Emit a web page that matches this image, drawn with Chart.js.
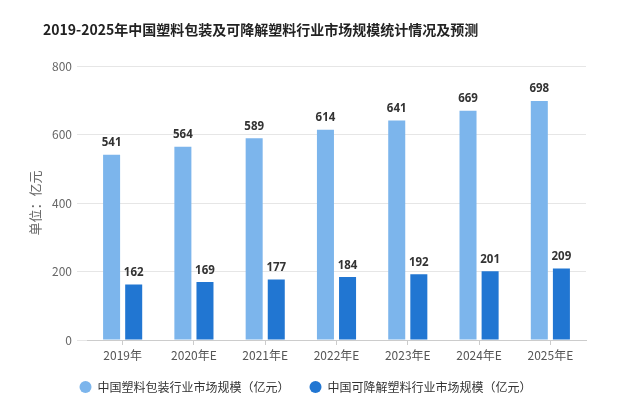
<!DOCTYPE html>
<html>
<head>
<meta charset="utf-8">
<script src="https://cdn.jsdelivr.net/npm/chart.js@4"></script>
<style>
  body { margin: 0; background: #fff; }
  #wrap { width: 622px; height: 400px; }
</style>
</head>
<body>
<div id="wrap"><canvas id="chart" width="622" height="400"></canvas></div>
<script>
// chart data
const titleText = '2019-2025年中国塑料包装及可降解塑料行业市场规模统计情况及预测';
const years = ['2019年', '2020年E', '2021年E', '2022年E', '2023年E', '2024年E', '2025年E'];
const plasticPackaging = [541, 564, 589, 614, 641, 669, 698];
const degradablePlastic = [162, 169, 177, 184, 192, 201, 209];
const seriesNames = ['中国塑料包装行业市场规模（亿元）', '中国可降解塑料行业市场规模（亿元）'];
const yTicks = [0, 200, 400, 600, 800];
const yTitle = '单位：亿元';

const FONT = '"Noto Sans CJK SC", "Noto Sans", sans-serif';

// title drawn at fixed spot, left-ish like the source image
const titlePlugin = {
    id: 'fixedTitle',
    afterDraw(chart) {
        const ctx = chart.ctx;
        ctx.save();
        ctx.font = 'bold 14px ' + FONT;
        ctx.fillStyle = '#222';
        ctx.textBaseline = 'middle';
        ctx.textAlign = 'left';
        ctx.fillText(titleText, 43, 30);
        ctx.restore();
    }
};

// value labels on top of bars
const valueLabels = {
    id: 'valueLabels',
    afterDatasetsDraw(chart) {
        const ctx = chart.ctx;
        ctx.save();
        ctx.font = 'bold 11.5px "Noto Sans", sans-serif';
        ctx.fillStyle = '#333';
        ctx.textAlign = 'center';
        ctx.textBaseline = 'bottom';
        chart.data.datasets.forEach((ds, i) => {
            chart.getDatasetMeta(i).data.forEach((bar, j) => {
                ctx.fillText(ds.data[j], bar.x, bar.y - 6);
            });
        });
        ctx.restore();
    }
};

new Chart(document.getElementById('chart'), {
    type: 'bar',
    data: {
        labels: years,
        datasets: [{
            label: seriesNames[0],
            data: plasticPackaging,
            backgroundColor: '#7cb5ec',
            categoryPercentage: 0.62,
            barPercentage: 0.77
        }, {
            label: seriesNames[1],
            data: degradablePlastic,
            backgroundColor: '#2176d2',
            categoryPercentage: 0.62,
            barPercentage: 0.77
        }]
    },
    options: {
        responsive: false,
        animation: false,
        layout: {
            padding: { top: 66, left: 25, right: 36, bottom: -3 }
        },
        plugins: {
            title: { display: false },
            tooltip: { enabled: false },
            legend: {
                position: 'bottom',
                labels: {
                    usePointStyle: true,
                    pointStyle: 'circle',
                    boxWidth: 14,
                    boxHeight: 8.5,
                    padding: 20,
                    color: '#333',
                    font: { size: 12, family: FONT }
                }
            }
        },
        scales: {
            x: {
                grid: {
                    display: true,
                    drawOnChartArea: false,
                    offset: false,
                    tickLength: 5,
                    color: '#ccc'
                },
                border: { color: '#ccc' },
                ticks: {
                    color: '#555',
                    padding: 3,
                    font: { size: 12, family: FONT }
                },
                afterFit(scale) {
                    scale.height = 21;
                }
            },
            y: {
                min: 0,
                max: 800,
                afterBuildTicks(scale) {
                    scale.ticks = yTicks.map(v => ({ value: v }));
                },
                grid: {
                    color: '#e6e6e6',
                    tickLength: 10
                },
                border: { display: false },
                ticks: {
                    color: '#666',
                    padding: 5,
                    font: { size: 12, family: FONT }
                },
                title: {
                    display: true,
                    text: yTitle,
                    color: '#666',
                    padding: 2,
                    font: { size: 13, family: FONT }
                },
                afterFit(scale) {
                    scale.width = 62;
                }
            }
        }
    },
    plugins: [titlePlugin, valueLabels]
});
</script>
</body>
</html>
